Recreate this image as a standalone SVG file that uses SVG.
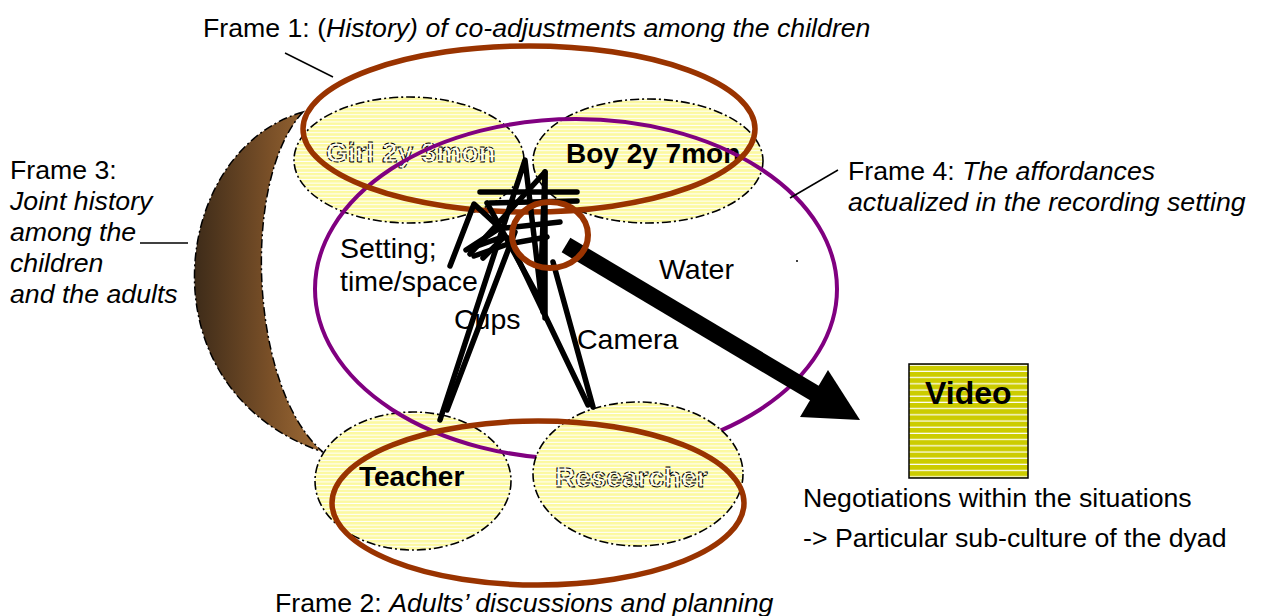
<svg xmlns="http://www.w3.org/2000/svg" width="1264" height="616" viewBox="0 0 1264 616">
  <defs>
    <!-- pale yellow striped fill for the participant ellipses -->
    <pattern id="stripes" patternUnits="userSpaceOnUse" width="10" height="3.6">
      <rect width="10" height="3.6" fill="#fcf9a0"/>
      <rect y="2.6" width="10" height="1" fill="#ffffff"/>
    </pattern>
    <!-- olive striped fill for the video box -->
    <pattern id="videoStripes" patternUnits="userSpaceOnUse" width="10" height="6.2">
      <rect width="10" height="6.2" fill="#cccc00"/>
      <rect y="5" width="10" height="1.2" fill="#ffffff"/>
    </pattern>
    <linearGradient id="crescentFill" x1="190" y1="0" x2="323" y2="0" gradientUnits="userSpaceOnUse">
      <stop offset="0" stop-color="#3a2918"/>
      <stop offset="0.6" stop-color="#7a5028"/>
      <stop offset="1" stop-color="#a06c36"/>
    </linearGradient>
    <style>
      .txt { font-family: "Liberation Sans", Arial, sans-serif; fill: #000; }
      .frame { font-size: 26.7px; }
      .lbl { font-size: 28.5px; }
      .bold { font-size: 28px; font-weight: bold; }
      .hollow { font-size: 28px; font-weight: bold; fill: #fffce8; stroke: #000; stroke-width: 1; stroke-dasharray: 5 1.5; }
      .it { font-style: italic; }
      .person { fill: url(#stripes); stroke: #000; stroke-width: 1.6; stroke-dasharray: 9 3 2 3; }
      .brown { fill: none; stroke: #993300; stroke-width: 5.5; }
      .purple { fill: none; stroke: #800080; stroke-width: 4; }
      .leader { stroke: #000; stroke-width: 1.5; fill: none; }
      .scribble { fill: none; stroke: #000; stroke-width: 5.5; stroke-linejoin: round; stroke-linecap: round; }
    </style>
  </defs>

  <!-- Frame 3: crescent of joint history -->
  <g id="frame3">
    <path d="M303,112 C170,150 140,390 323,452 C250,390 240,180 303,112 Z" fill="url(#crescentFill)" stroke="#000" stroke-width="1.5" stroke-dasharray="9 3 2 3"/>
  </g>

  <!-- participants -->
  <g id="girl">
    <ellipse class="person" cx="409" cy="160" rx="115" ry="63"/>
    <text class="txt hollow" x="326" y="162">Girl 2y 3mon</text>
  </g>
  <g id="boy">
    <ellipse class="person" cx="648" cy="161" rx="115" ry="62"/>
    <text class="txt bold" x="566" y="163">Boy 2y 7mon</text>
  </g>
  <g id="teacher">
    <ellipse class="person" cx="413" cy="481" rx="98" ry="69"/>
    <text class="txt bold" x="359" y="486">Teacher</text>
  </g>

  <!-- Frame 4: recording setting -->
  <g id="frame4">
    <ellipse class="purple" cx="576" cy="289" rx="261" ry="170"/>
  </g>

  <g id="researcher">
    <ellipse class="person" cx="638" cy="474" rx="105" ry="72"/>
    <text class="txt hollow" x="555" y="487">Researcher</text>
  </g>

  <!-- Frame 1 and Frame 2 -->
  <g id="frame1">
    <ellipse class="brown" cx="529" cy="129" rx="226" ry="83"/>
  </g>
  <g id="frame2">
    <ellipse class="brown" cx="538" cy="503" rx="206" ry="82"/>
  </g>

  <!-- connectors -->
  <g id="connectors">
    <path class="scribble" d="M440,420 L525,160 L543,312"/>
    <path class="scribble" d="M447,410 L515,232"/>
    <path class="scribble" d="M593,407 L553,262"/>
    <path class="scribble" d="M588,405 L508,238"/>
    <path class="scribble" d="M545,172 L545,318"/>
    <path class="scribble" d="M480,192 L577,192"/>
    <path class="scribble" d="M490,203 L577,201"/>
    <path class="scribble" d="M450,266 L474,204 L500,228 L466,250 L505,236 L483,258"/>
    <path class="scribble" d="M470,254 L545,172 L540,300 L487,203"/>
    <path class="scribble" d="M474,256 L508,244 L547,237"/>
    <path class="scribble" d="M505,228 L560,222"/>
    <!-- thick arrow to the video -->
    <line x1="566" y1="245" x2="816" y2="394" stroke="#000" stroke-width="17"/>
    <polygon points="860,420 800,417 828,370" fill="#000"/>
    <!-- leader lines -->
    <line class="leader" x1="285" y1="53" x2="333" y2="77"/>
    <line class="leader" x1="790" y1="198" x2="838" y2="170"/>
    <line class="leader" x1="140" y1="243" x2="188" y2="243"/>
  </g>

  <!-- focus circle -->
  <g id="focus">
    <ellipse cx="550" cy="235" rx="38" ry="33" fill="none" stroke="#993300" stroke-width="6"/>
  </g>

  <!-- video -->
  <g id="video">
    <rect x="909" y="364" width="119" height="114" fill="url(#videoStripes)" stroke="#000" stroke-width="1.5"/>
    <text class="txt" x="925" y="404" font-size="32" font-weight="bold">Video</text>
  </g>

  <!-- labels -->
  <g id="labels">
    <text class="txt frame" x="203" y="37">Frame 1: (<tspan class="it">History) of co-adjustments among the children</tspan></text>
    <text class="txt frame" x="275" y="612">Frame 2: <tspan class="it">Adults’ discussions and planning</tspan></text>
    <text class="txt frame" x="10" y="179">Frame 3:</text>
    <text class="txt frame it" x="10" y="210">Joint history</text>
    <text class="txt frame it" x="10" y="241">among the</text>
    <text class="txt frame it" x="10" y="272">children</text>
    <text class="txt frame it" x="10" y="303">and the adults</text>
    <text class="txt frame" x="848" y="180">Frame 4: <tspan class="it">The affordances</tspan></text>
    <text class="txt frame it" x="848" y="211">actualized in the recording setting</text>
    <text class="txt lbl" x="340" y="258">Setting;</text>
    <text class="txt lbl" x="340" y="291">time/space</text>
    <text class="txt lbl" x="454" y="329">Cups</text>
    <text class="txt lbl" x="577" y="349">Camera</text>
    <text class="txt lbl" x="659" y="279">Water</text>
    <circle cx="797" cy="261" r="1" fill="#000"/>
    <text class="txt frame" x="803" y="507">Negotiations within the situations</text>
    <text class="txt frame" x="803" y="547">-&gt; Particular sub-culture of the dyad</text>
  </g>
</svg>
